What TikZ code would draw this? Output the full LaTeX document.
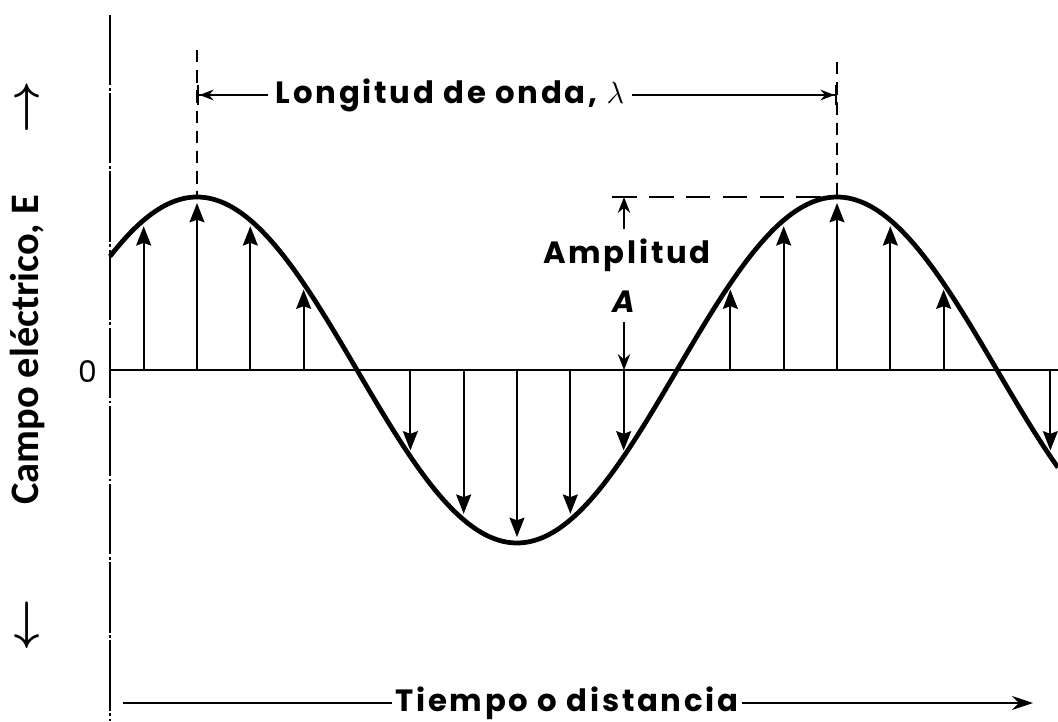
\RequirePackage{fix-cm}
\documentclass[tikz,border=0pt]{standalone}
\usepackage{fontspec}
\usetikzlibrary{arrows.meta}
\newfontfamily\labelfont{Poppins}[LetterSpace=9]
\newfontfamily\axisfont{Carlito}

\begin{document}
\begin{tikzpicture}[x=0.02cm, y=0.02cm,
  wave/.style={line width=2.7pt},
  axisline/.style={line width=1.6pt},
  field/.style={line width=1.2pt, -{Stealth[length=11pt, width=8.5pt, inset=1.5pt]}},
  guide/.style={line width=1.3pt, dash pattern=on 7pt off 4.5pt},
  dimline/.style={line width=1.4pt, -{Stealth[length=8pt, width=6pt] Bar[width=11pt]}},
  lbl/.style={font=\labelfont\bfseries\fontsize{17.5}{20}\selectfont, inner sep=0pt},
  sidearrow/.style={rotate=90, inner sep=0pt, font=\fontsize{26}{30}\selectfont\boldmath}]

  \useasboundingbox (-110,-351) rectangle (948,370);

  % --- 1. ejes ---
  \draw[line width=0.9pt, dash pattern=on 40pt off 1.5pt on 1.5pt off 1.5pt] (0,355) -- (0,-351);
  \draw[axisline] (0,0) -- (948,0);
  \node[font=\labelfont\fontsize{17}{19}\selectfont] (zero) at (-22,-2) {0};

  % --- 2. onda ---
  \draw[wave] plot[domain=0:948, samples=240] (\x, {173*cos(0.5625*(\x-87))});

  % --- 3. flechas del campo ---
  \foreach \k in {-1,0,1,2,4,5,6,7,8,10,11,12,13,14,16} {
    \pgfmathsetmacro{\xk}{87+\k*640/12}
    \pgfmathsetmacro{\yk}{173*cos(30*\k)}
    \pgfmathsetmacro{\yend}{\yk-6*sign(\yk)}
    \draw[field] (\xk,0) -- (\xk,\yend);
  }

  % --- 4. longitud de onda ---
  \draw[guide] (87,320) -- (87,173);
  \draw[guide] (727,308) -- (727,173);
  \node[lbl] (wl) at (340,275) {Longitud de onda, $\lambda$};
  \coordinate (wlL) at (87,275);
  \coordinate (wlR) at (727,275);
  \draw[dimline, shorten <=4pt] (wl.west) -- (wlL);
  \draw[dimline, shorten <=4pt] (wl.east) -- (wlR);

  % --- 5. amplitud ---
  \draw[line width=1.4pt, dash pattern=on 14pt off 7pt] (502,173) -- (727,173);
  \node[lbl] (amp) at (517,115) {Amplitud};
  \node[lbl, font=\labelfont\bfseries\itshape\fontsize{17.5}{20}\selectfont] (ampA) at (514,68) {A};
  \coordinate (ampT) at (514,173);
  \coordinate (ampB) at (514,0);
  \draw[line width=1.3pt, -{Stealth[length=9pt, width=7pt]}, shorten <=5pt] (amp.north -| ampT) -- (ampT);
  \draw[line width=1.3pt, -{Stealth[length=9pt, width=7pt]}, shorten <=5pt] (ampA.south) -- (ampB);

  % --- 6. tiempo o distancia ---
  \node[lbl] (td) at (457,-333) {Tiempo o distancia};
  \coordinate (tdL) at (13,-333);
  \coordinate (tdR) at (923,-333);
  \draw[axisline, shorten <=2pt] (td.west) -- (tdL);
  \draw[axisline, shorten <=2pt, -{Stealth[length=12pt, width=8pt]}] (td.east) -- (tdR);

  % --- 7. campo electrico (eje vertical) ---
  \node[rotate=90, font=\axisfont\bfseries\fontsize{23}{27}\selectfont] (campo) at (-82,20) {Campo eléctrico, E};
  \node[sidearrow] (campoUp) at (-80,263) {$\rightarrow$};
  \node[sidearrow] (campoDown) at (-80,-255) {$\leftarrow$};

\end{tikzpicture}
\end{document}
